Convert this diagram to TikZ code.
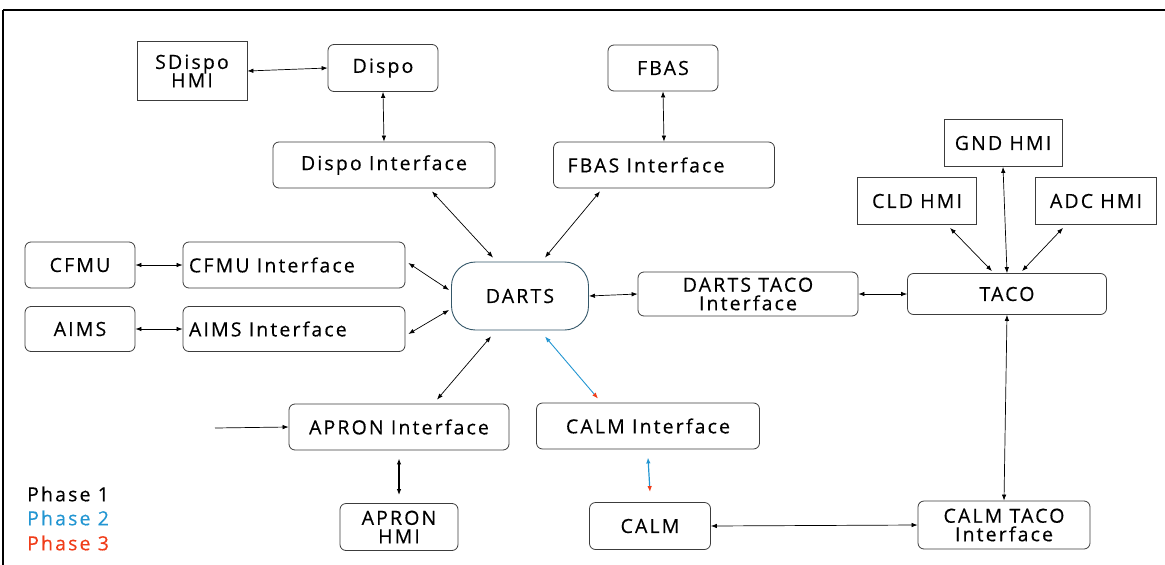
\documentclass[tikz,border=0pt]{standalone}
\usepackage{fontspec}
\setmainfont{Open Sans}[LetterSpace=11,FakeBold=0.35]
\usetikzlibrary{arrows.meta,calc}
\definecolor{phblue}{RGB}{35,150,210}
\definecolor{phred}{RGB}{240,60,25}
\definecolor{boxline}{RGB}{60,60,60}
\begin{document}
\begin{tikzpicture}[x=1pt,y=-1pt,
  txt/.style={font=\fontsize{19.5}{19.5}\selectfont, align=center},
  rbox/.style={txt, draw=boxline, line width=0.8pt, rounded corners=6pt, fill=white, inner sep=0pt},
  sbox/.style={txt, draw=boxline, line width=0.8pt, fill=white, inner sep=0pt},
  sz/.style 2 args={minimum width=#1, minimum height=#2},
  lefttext/.style={text width=#1, align=flush left},
  link/.style={draw, line width=0.7pt, {Latex[length=6pt,width=4.5pt]}-{Latex[length=6pt,width=4.5pt]}},
  onelink/.style={draw, line width=0.7pt, -{Latex[length=6pt,width=4.5pt]}},
  twotone/.style={draw=phblue, line width=0.9pt, {Latex[length=6pt,width=4.5pt,color=phblue]}-{Latex[length=6pt,width=4.5pt,color=phred]}}
]
\useasboundingbox (0,0) rectangle (1165,565);
% frame
\draw[line width=2.5pt] (3,10) -- (1165,10);
\draw[line width=2pt] (3,10) -- (3,565);

% nodes
\node[sbox, sz={110pt}{59pt}] (sdhmi) at (192,71) {SDispo\\[-1pt]HMI};
\node[rbox, sz={110pt}{47pt}] (dispo) at (383,68) {Dispo};
\node[rbox, sz={222pt}{46pt}] (dispoif) at (384,165) {Dispo Interface};
\node[rbox, sz={110pt}{46pt}] (fbas) at (663,68) {FBAS};
\node[rbox, sz={221pt}{46pt}, lefttext=193pt] (fbasif) at (664,165) {FBAS Interface};
\node[sbox, sz={118pt}{47pt}] (gnd) at (1003,143) {GND HMI};
\node[sbox, sz={119pt}{47pt}] (cld) at (917,201) {CLD HMI};
\node[sbox, sz={121pt}{47pt}] (adc) at (1096,201) {ADC HMI};
\node[rbox, sz={199pt}{41pt}] (taco) at (1007,294) {TACO};
\node[rbox, sz={110pt}{46pt}] (cfmu) at (80,265) {CFMU};
\node[rbox, sz={222pt}{46pt}, lefttext=210pt] (cfmuif) at (294,265) {CFMU Interface};
\node[rbox, sz={110pt}{45pt}] (aims) at (80,329) {AIMS};
\node[rbox, sz={222pt}{45pt}, lefttext=210pt] (aimsif) at (294,329) {AIMS Interface};
\node[txt, draw=boxline!70!phblue, line width=0.9pt, rounded corners=24pt, fill=white, sz={137pt}{68pt}, inner sep=0pt] (darts) at (520,296) {DARTS};
\node[rbox, sz={220pt}{44pt}] (dtif) at (748,294) {DARTS TACO\\[-1pt]Interface};
\node[rbox, sz={220pt}{46pt}] (apronif) at (399,427) {APRON Interface};
\node[rbox, sz={223pt}{46pt}] (calmif) at (648,426) {CALM Interface};
\node[rbox, sz={118pt}{47pt}] (apronhmi) at (399,527) {APRON\\[-1pt]HMI};
\node[rbox, sz={121pt}{47pt}] (calm) at (650,526) {CALM};
\node[rbox, sz={172pt}{48pt}] (ctif) at (1004,525) {CALM TACO\\[-1pt]Interface};

% legend
\node[txt, anchor=west, inner sep=0pt] (ph1) at (27,494) {Phase 1};
\node[txt, anchor=west, inner sep=0pt, text=phblue] (ph2) at (27,518) {Phase 2};
\node[txt, anchor=west, inner sep=0pt, text=phred] (ph3) at (27,543) {Phase 3};

% connectors
\path[link] (sdhmi.east) -- (dispo.west);
\path[link] (dispo.south) -- (dispoif.north);
\path[link] (fbas.south) -- (fbasif.north);
\path[link] (cfmu.east) -- (cfmuif.west);
\path[link] (aims.east) -- (aimsif.west);
\path[link] ([xshift=48pt,yshift=-3pt]dispoif.south) -- ([xshift=-27pt,yshift=4pt]darts.north);
\path[link] ([xshift=-64pt,yshift=-3pt]fbasif.south) -- ([xshift=25pt,yshift=4pt]darts.north);
\path[link] ([xshift=3pt,yshift=2pt]cfmuif.east) -- ([xshift=-2pt,yshift=6pt]darts.west);
\path[link] ([xshift=3pt,yshift=-5pt]aimsif.east) -- ([xshift=-2pt,yshift=-14pt]darts.west);
\path[link] (darts.east) -- (dtif.west);
\path[link] (dtif.east) -- (taco.west);
\path[link] ([xshift=33pt,yshift=-3pt]cld.south) -- ([xshift=-15pt,yshift=2pt]taco.north);
\path[link] (gnd.south) -- (taco.north);
\path[link] ([xshift=-33pt,yshift=-3pt]adc.south) -- ([xshift=15pt,yshift=2pt]taco.north);
\path[link] (taco.south) -- (ctif.north);
\path[link] ([xshift=-29pt,yshift=-6pt]darts.south) -- ([xshift=38pt,yshift=4pt]apronif.north);
\path[twotone] ([xshift=25pt,yshift=-6pt]darts.south) -- ([xshift=-50pt,yshift=4pt]calmif.north);
\path[link, line width=1.4pt] ([yshift=-8pt]apronif.south) -- ([yshift=8pt]apronhmi.north);
\path[twotone, line width=1.2pt] ([yshift=-8pt]calmif.south) -- ([yshift=10pt]calm.north);
\path[link] (calm.east) -- (ctif.west);
\coordinate (aprin) at (215,428);
\path[onelink] (aprin) -- (apronif.west);
\end{tikzpicture}
\end{document}
